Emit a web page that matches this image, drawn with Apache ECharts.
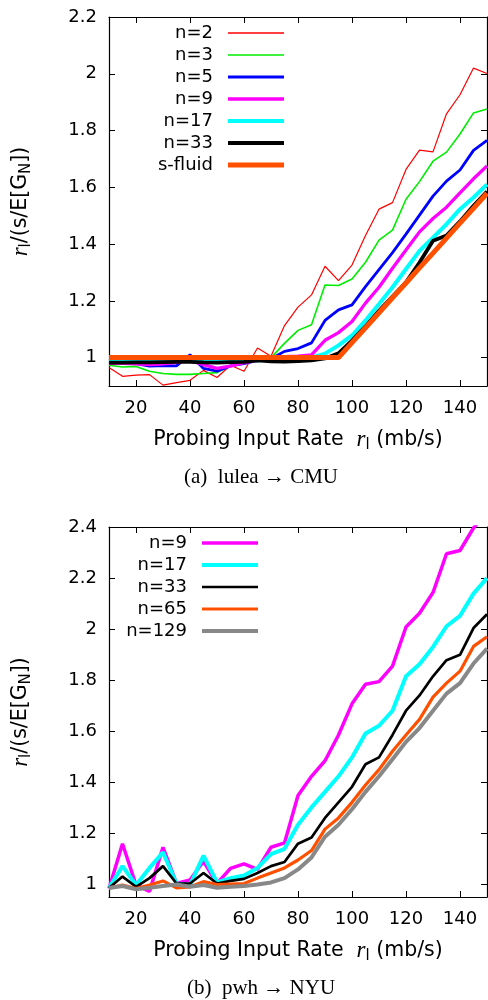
<!DOCTYPE html>
<html>
<head>
<meta charset="utf-8">
<script src="https://cdn.jsdelivr.net/npm/echarts@6.0.0/dist/echarts.min.js"></script>
<style>
body{margin:0;background:#fff;}
#chartA{position:absolute;left:0;top:0;width:488px;height:500px;}
#chartB{position:absolute;left:0;top:500px;width:488px;height:500px;}
</style>
</head>
<body>
<div id="chartA"></div>
<div id="chartB"></div>
<script>
// probing input rate (mb/s)
var rates = [10,15,20,25,30,35,40,45,50,55,60,65,70,75,80,85,90,95,100,105,110,115,120,125,130,135,140,145,150];
var xTicks = [20,40,60,80,100,120,140];

// (a) lulea -> CMU
var aTicks = [1,1.2,1.4,1.6,1.8,2,2.2];
var aN2 = [0.965,0.934,0.938,0.94,0.903,0.912,0.92,0.955,0.93,0.973,0.952,1.034,1.005,1.113,1.178,1.221,1.322,1.271,1.326,1.43,1.523,1.546,1.663,1.731,1.725,1.859,1.926,2.02,2.001];
var aN3 = [0.973,0.967,0.969,0.952,0.944,0.941,0.941,0.944,0.947,0.971,0.99,0.99,1.0,1.05,1.096,1.116,1.256,1.254,1.277,1.336,1.414,1.449,1.558,1.62,1.692,1.724,1.788,1.862,1.876];
var aN5 = [0.985,0.979,0.979,0.97,0.972,0.971,1.01,0.962,0.952,0.971,0.979,0.99,0.996,1.022,1.032,1.052,1.131,1.168,1.186,1.25,1.31,1.37,1.435,1.502,1.569,1.622,1.661,1.73,1.765];
var aN9 = [0.98,0.98,0.978,0.975,0.978,0.983,0.99,0.975,0.962,0.97,0.982,0.99,0.995,1.003,1.005,1.01,1.061,1.088,1.127,1.192,1.248,1.315,1.379,1.443,1.49,1.53,1.58,1.63,1.675];
var aN17 = [0.985,0.987,0.99,0.99,0.99,0.99,0.99,0.99,0.99,0.992,0.995,0.99,0.995,1.0,1.0,1.0,1.014,1.043,1.078,1.131,1.189,1.248,1.312,1.376,1.423,1.47,1.523,1.564,1.61];
var aN33 = [0.982,0.982,0.983,0.983,0.984,0.985,0.985,0.983,0.982,0.984,0.985,0.99,0.987,0.986,0.988,0.99,0.997,1.015,1.06,1.11,1.165,1.215,1.265,1.335,1.412,1.43,1.48,1.535,1.585];
var aFluid = [1,1,1,1,1,1,1,1,1,1,1,1,1,1,1,1,1,1,1.053,1.105,1.158,1.211,1.263,1.316,1.368,1.421,1.474,1.526,1.579];

// (b) pwh -> NYU
var bTicks = [1,1.2,1.4,1.6,1.8,2,2.2,2.4];
var bN9 = [0.983,1.159,0.997,0.972,1.145,1.003,1.017,1.09,1.003,1.062,1.08,1.058,1.145,1.162,1.348,1.423,1.484,1.585,1.707,1.784,1.794,1.855,2.008,2.062,2.143,2.295,2.308,2.396,2.46];
var bN17 = [0.985,1.071,0.997,1.064,1.125,1.003,0.997,1.112,1.007,1.024,1.034,1.064,1.118,1.139,1.233,1.301,1.362,1.423,1.497,1.591,1.621,1.68,1.815,1.862,1.93,2.011,2.052,2.139,2.2];
var bN33 = [0.985,1.03,0.99,1.024,1.071,1.003,1.003,1.044,1.003,1.013,1.021,1.044,1.071,1.087,1.159,1.183,1.26,1.321,1.382,1.47,1.497,1.585,1.68,1.74,1.815,1.878,1.899,2.004,2.058];
var bN65 = [0.985,0.997,0.983,0.997,1.013,0.986,0.99,1.01,0.999,1.001,1.003,1.024,1.044,1.064,1.095,1.132,1.216,1.26,1.321,1.389,1.449,1.521,1.585,1.646,1.733,1.788,1.835,1.932,1.97];
var bN129 = [0.985,0.993,0.98,0.986,0.993,0.999,0.99,0.997,0.986,0.99,0.993,0.999,1.007,1.024,1.058,1.105,1.186,1.233,1.294,1.362,1.423,1.49,1.558,1.612,1.68,1.747,1.788,1.865,1.923];

var SANS = 'DejaVu Sans';
var SERIF = 'Liberation Serif';

function pairs(vals){
	return rates.map(function(r, i){ return [r, vals[i]]; });
}

// one legend box per item, right aligned so the line samples line up
function makeLegends(lines, right, top, step){
	return lines.map(function(l, i){
		return {
			data: [{name: l.name, icon: 'rect', itemStyle: {color: l.color}}],
			orient: 'vertical', align: 'right',
			right: right, top: top + i*step,
			itemWidth: 56, itemHeight: Math.max(1.5, l.width), padding: 0,
			selectedMode: false,
			textStyle: {fontFamily: SANS, fontSize: 18, color: '#000', lineHeight: 20, padding: [0,10,0,0]}
		};
	});
}

function makeOption(cfg){
	var axisTxt = {
		t: {fontFamily: SANS, fontSize: 20.5, color: '#000', lineHeight: 26},
		r: {fontFamily: SERIF, fontStyle: 'italic', fontSize: 23, color: '#000', lineHeight: 26},
		s: {fontFamily: SANS, fontSize: 15, color: '#000', verticalAlign: 'bottom'}
	};
	var tick = {show: true, inside: true, length: 6, lineStyle: {color: '#000', width: 1}};
	var line = {show: true, lineStyle: {color: '#000', width: 1.2}};
	var series = cfg.lines.map(function(l){
		return {
			name: l.name, type: 'line', data: pairs(l.data),
			xAxisIndex: 0, yAxisIndex: 0,
			symbol: 'none', animation: false,
			lineStyle: {color: l.color, width: l.width}
		};
	});
	return {
		backgroundColor: '#fff',
		animation: false,
		grid: {left: 109, right: 1, top: cfg.top, bottom: cfg.bottom},
		legend: makeLegends(cfg.lines, cfg.legRight, cfg.legTop, 22),
		xAxis: [{
			type: 'value', min: 10, max: 150, position: 'bottom',
			axisLine: line, splitLine: {show: false},
			axisTick: Object.assign({customValues: xTicks}, tick),
			axisLabel: {customValues: xTicks, fontFamily: SANS, fontSize: 18, color: '#000', margin: 13},
			name: '{t|Probing Input Rate  }{r|r}{s|l}{t| (mb/s)}',
			nameLocation: 'middle', nameGap: 41,
			nameTextStyle: {rich: axisTxt}
		}, {
			type: 'value', min: 10, max: 150, position: 'top',
			axisLine: line, splitLine: {show: false},
			axisTick: Object.assign({customValues: xTicks}, tick),
			axisLabel: {show: false}
		}],
		yAxis: [{
			type: 'value', min: cfg.ymin, max: cfg.ymax, position: 'left',
			axisLine: line, splitLine: {show: false},
			axisTick: Object.assign({customValues: cfg.ticks}, tick),
			axisLabel: {customValues: cfg.ticks, fontFamily: SANS, fontSize: 18, color: '#000', margin: 12},
			name: '{r|r}{s|l}{t|/(s/E[G}{s|N}{t|])}',
			nameLocation: 'middle', nameGap: 75, nameRotate: 90,
			nameTextStyle: {rich: axisTxt}
		}, {
			type: 'value', min: cfg.ymin, max: cfg.ymax, position: 'right',
			axisLine: line, splitLine: {show: false},
			axisTick: Object.assign({customValues: cfg.ticks}, tick),
			axisLabel: {show: false}
		}],
		graphic: [{
			type: 'text', x: 261, y: cfg.capY,
			style: {text: cfg.caption, font: '21px "' + SERIF + '"', fill: '#000', align: 'center', verticalAlign: 'middle'}
		}],
		series: series
	};
}

var chartA = echarts.init(document.getElementById('chartA'));
chartA.setOption(makeOption({
	top: 17, bottom: 114, ymin: 0.9, ymax: 2.2, ticks: aTicks,
	legRight: 204, legTop: 23, capY: 477,
	caption: '(a)  lulea \u2192 CMU',
	lines: [
		{name: 'n=2', data: aN2, color: '#ff0000', width: 1.2},
		{name: 'n=3', data: aN3, color: '#00ee00', width: 1.6},
		{name: 'n=5', data: aN5, color: '#0000ff', width: 2.8},
		{name: 'n=9', data: aN9, color: '#ff00ff', width: 3.3},
		{name: 'n=17', data: aN17, color: '#00ffff', width: 4},
		{name: 'n=33', data: aN33, color: '#000000', width: 3.8},
		{name: 's-fluid', data: aFluid, color: '#ff5000', width: 5}
	]
}));

var chartB = echarts.init(document.getElementById('chartB'));
chartB.setOption(makeOption({
	top: 27, bottom: 103, ymin: 0.95, ymax: 2.4, ticks: bTicks,
	legRight: 230, legTop: 33, capY: 488,
	caption: '(b)  pwh \u2192 NYU',
	lines: [
		{name: 'n=9', data: bN9, color: '#ff00ff', width: 3.5},
		{name: 'n=17', data: bN17, color: '#00ffff', width: 4},
		{name: 'n=33', data: bN33, color: '#000000', width: 2.7},
		{name: 'n=65', data: bN65, color: '#ff5000', width: 3.2},
		{name: 'n=129', data: bN129, color: '#888888', width: 4}
	]
}));
</script>
</body>
</html>
